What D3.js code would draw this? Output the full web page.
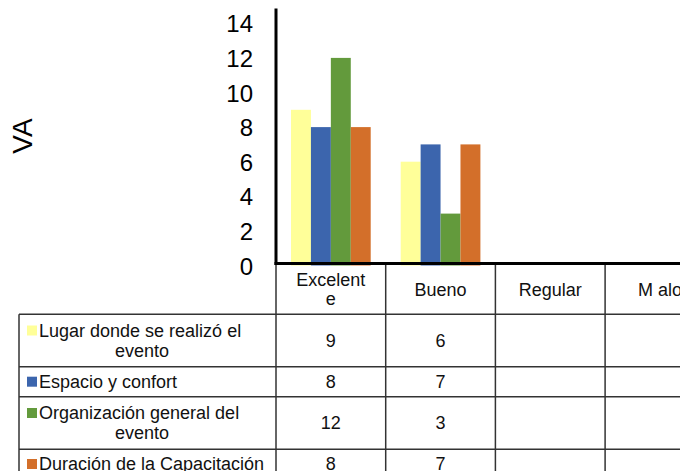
<!DOCTYPE html>
<html><head><meta charset="utf-8">
<script src="https://cdn.jsdelivr.net/npm/d3@7"></script>
<style>body{margin:0;background:#fff;} svg{display:block;}</style>
</head><body>
<svg id="c" width="680" height="471"></svg>
<script>
const categories = ["Excelente", "Bueno", "Regular", "Malo"];
const headerLabels = [["Excelent", "e"], ["Bueno"], ["Regular"], ["M alo"]];
const seriesNames = ["Lugar donde se realizó el evento", "Espacio y confort", "Organización general del evento", "Duración de la Capacitación"];
const legendLines = [["Lugar donde se realizó el", "evento"], ["Espacio y confort"], ["Organización general del", "evento"], ["Duración de la Capacitación"]];
const seriesColors = ["#FFFF99", "#3C65AD", "#639A3C", "#D36F2A"];
const lugarValues = [9, 6, null, null];
const espacioValues = [8, 7, null, null];
const organizacionValues = [12, 3, null, null];
const duracionValues = [8, 7, null, null];
const yTicks = [0, 2, 4, 6, 8, 10, 12, 14];
const yLabel = "VA";

const seriesValues = [lugarValues, espacioValues, organizacionValues, duracionValues];
const svg = d3.select("#c");
const font = "'Liberation Sans', Arial, sans-serif";

const x = d3.scaleBand().domain(categories).range([276, 276 + 4 * 109.7]);
const x1 = d3.scaleBand().domain(seriesNames).range([15, x.bandwidth() - 15]);
const y = d3.scaleLinear().domain([0, 14]).range([265.5, 265.5 - 14 * 17.3]);

// bars
categories.forEach((c, ci) => {
  seriesNames.forEach((s, si) => {
    const v = seriesValues[si][ci];
    if (v == null) return;
    svg.append("rect")
      .attr("x", x(c) + x1(s))
      .attr("y", y(v))
      .attr("width", x1.bandwidth())
      .attr("height", y(0) - y(v))
      .attr("fill", seriesColors[si]);
  });
});

// y tick labels
const yAxis = d3.axisLeft(y).tickValues(yTicks).tickSize(0).tickPadding(0);
const yg = svg.append("g").attr("transform", "translate(253,0)").call(yAxis);
yg.select(".domain").remove();
yg.selectAll("text").attr("font-family", font).attr("font-size", 24).attr("fill", "#000")
  .attr("dy", "0.36em");

// y label
svg.append("text").attr("transform", "translate(32,136) rotate(-90)")
  .attr("text-anchor", "middle").attr("font-family", font).attr("font-size", 28)
  .attr("fill", "#000").text(yLabel);

// table
const lineCol = "#333";
const rowBounds = [314.3, 366.7, 396.7, 449.3, 480];
const tbl = svg.append("g").attr("stroke", lineCol).attr("stroke-width", 1.5).attr("fill", "none");
// horizontal lines
rowBounds.forEach(yy => tbl.append("line").attr("x1", 19).attr("x2", 680).attr("y1", yy).attr("y2", yy));
// legend column left border
tbl.append("line").attr("x1", 19).attr("x2", 19).attr("y1", rowBounds[0]).attr("y2", 480);
// column lines
categories.forEach(c => {
  tbl.append("line").attr("x1", x(c)).attr("x2", x(c)).attr("y1", 264).attr("y2", 480);
});
tbl.append("line").attr("x1", x.range()[1]).attr("x2", x.range()[1]).attr("y1", 264).attr("y2", 480);

// header labels
const tf = 18;
categories.forEach((c, ci) => {
  const lines = headerLabels[ci];
  const cy = 289.5;
  lines.forEach((l, li) => {
    svg.append("text").attr("x", x(c) + x.bandwidth() / 2)
      .attr("y", cy + (li - (lines.length - 1) / 2) * 19)
      .attr("dy", "0.35em").attr("text-anchor", "middle")
      .attr("font-family", font).attr("font-size", tf).attr("fill", "#111").text(l);
  });
});

// rows
seriesNames.forEach((s, si) => {
  const top = rowBounds[si], bot = rowBounds[si + 1];
  const cy = si === 3 ? 464 : (top + bot) / 2;
  const lines = legendLines[si];
  lines.forEach((l, li) => {
    const ly = cy + (li - (lines.length - 1) / 2) * 20;
    if (li === 0) {
      svg.append("rect").attr("x", 27).attr("y", ly - 5).attr("width", 10).attr("height", 10)
        .attr("fill", seriesColors[si]);
      svg.append("text").attr("x", 39).attr("y", ly).attr("dy", "0.35em")
        .attr("font-family", font).attr("font-size", tf).attr("fill", "#111").text(l);
    } else {
      svg.append("text").attr("x", 142).attr("y", ly).attr("dy", "0.35em").attr("text-anchor", "middle")
        .attr("font-family", font).attr("font-size", tf).attr("fill", "#111").text(l);
    }
  });
  categories.forEach((c, ci) => {
    const v = seriesValues[si][ci];
    if (v == null) return;
    svg.append("text").attr("x", x(c) + x.bandwidth() / 2).attr("y", cy).attr("dy", "0.35em")
      .attr("text-anchor", "middle").attr("font-family", font).attr("font-size", tf)
      .attr("fill", "#111").text(v);
  });
});

// axes lines (thick)
svg.append("line").attr("x1", 276).attr("x2", 276).attr("y1", 8.5).attr("y2", 265)
  .attr("stroke", "#000").attr("stroke-width", 3);
svg.append("line").attr("x1", 274.5).attr("x2", 680).attr("y1", 263.5).attr("y2", 263.5)
  .attr("stroke", "#000").attr("stroke-width", 3);
</script>
</body></html>
